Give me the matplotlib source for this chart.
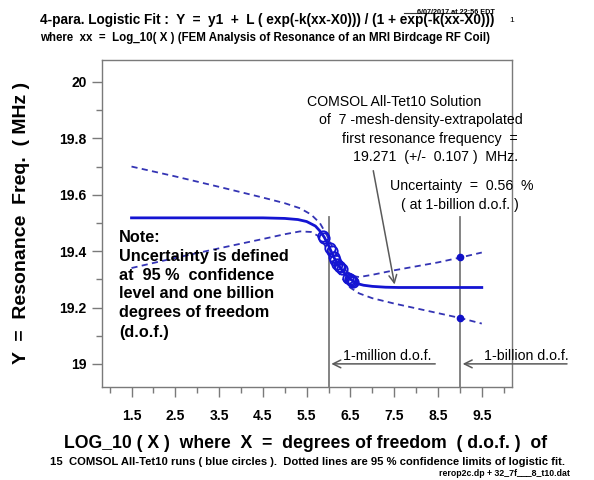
import matplotlib
matplotlib.use("Agg")
import matplotlib.pyplot as plt
from matplotlib.ticker import FixedLocator
from matplotlib.lines import Line2D

plt.rcParams['font.family'] = ['Liberation Sans', 'DejaVu Sans']

# logistic fit curve
fit_x = [1.5, 4.5, 5.0, 5.3, 5.5, 5.7, 5.8, 5.9, 6.0, 6.1, 6.2, 6.3, 6.4, 6.5, 6.6, 6.7, 6.8, 7.0, 7.3, 7.6, 9.5]
fit_y = [19.518, 19.518, 19.516, 19.512, 19.505, 19.489, 19.472, 19.45, 19.42, 19.385, 19.355, 19.335,
         19.315, 19.300, 19.290, 19.283, 19.279, 19.275, 19.272, 19.271, 19.271]

# 95 % confidence limits (dashed)
up_x = [1.5, 2.5, 3.5, 4.5, 5.0, 5.35, 5.6, 5.8, 5.95, 6.1, 6.25, 6.4, 6.55, 6.7, 7.0, 7.5, 8.0, 8.5, 9.0, 9.5]
up_y = [19.70, 19.665, 19.628, 19.59, 19.57, 19.552, 19.53, 19.50, 19.46, 19.41, 19.365, 19.33, 19.312,
        19.308, 19.316, 19.332, 19.346, 19.36, 19.377, 19.395]
lo_x = [1.5, 2.5, 3.5, 4.5, 5.0, 5.35, 5.6, 5.75, 5.9, 6.05, 6.2, 6.35, 6.5, 6.7, 7.0, 7.5, 8.0, 8.5, 9.0, 9.5]
lo_y = [19.34, 19.376, 19.41, 19.443, 19.46, 19.47, 19.468, 19.455, 19.425, 19.38, 19.335, 19.295, 19.27,
        19.25, 19.233, 19.214, 19.197, 19.18, 19.163, 19.143]

# 15 COMSOL runs (blue circles)
run_x = [5.87, 5.90, 6.04, 6.07, 6.12, 6.15, 6.20, 6.24, 6.27, 6.30, 6.45, 6.48, 6.51, 6.54, 6.57]
run_y = [19.455, 19.447, 19.41, 19.40, 19.38, 19.37, 19.355, 19.347, 19.343, 19.337, 19.305, 19.300,
         19.297, 19.294, 19.292]

# confidence limits at 1-billion d.o.f.
ci_x = [9.0, 9.0]
ci_y = [19.378, 19.164]

xmajor = [1.5, 2.5, 3.5, 4.5, 5.5, 6.5, 7.5, 8.5, 9.5]
xlabels = ["1.5", "2.5", "3.5", "4.5", "5.5", "6.5", "7.5", "8.5", "9.5"]
xminor = [1, 2, 3, 4, 5, 6, 7, 8, 9, 10]
ymajor = [19.0, 19.2, 19.4, 19.6, 19.8, 20.0]
ylabels = ["19", "19.2", "19.4", "19.6", "19.8", "20"]
yminor = [19.1, 19.3, 19.5, 19.7, 19.9]

W, H = 594, 480
fig = plt.figure(figsize=(W / 100, H / 100), dpi=100)
ax = fig.add_axes([102 / W, 1 - 387 / H, 410 / W, 327 / H])
ax.set_xlim(0.826, 10.19)
ax.set_ylim(18.918, 20.078)

grey = '#7a7a7a'
for s in ax.spines.values():
    s.set_color(grey)
    s.set_linewidth(1.0)

ax.xaxis.set_major_locator(FixedLocator(xmajor))
ax.set_xticklabels(xlabels, fontweight='bold', fontsize=10)
ax.xaxis.set_minor_locator(FixedLocator(xminor))
ax.yaxis.set_major_locator(FixedLocator(ymajor))
ax.set_yticklabels(ylabels, fontweight='bold', fontsize=10)
ax.yaxis.set_minor_locator(FixedLocator(yminor))
ax.tick_params(which='major', direction='out', length=7, width=1, color=grey)
ax.tick_params(which='minor', direction='out', length=4, width=1, color=grey)
ax.tick_params(axis='x', which='major', pad=9)
ax.tick_params(axis='y', which='major', pad=4)

# vertical markers at 1-million and 1-billion d.o.f.
ax.plot([6, 6], [19.52, 18.918], color=grey, lw=1.3)
ax.plot([9, 9], [19.52, 18.918], color=grey, lw=1.3)

ax.plot(up_x, up_y, color='#3434b4', lw=1.3, dashes=(3.4, 2.4))
ax.plot(lo_x, lo_y, color='#3434b4', lw=1.3, dashes=(3.4, 2.4))
ax.plot(fit_x, fit_y, color='#1414d2', lw=2.0)
ax.plot(run_x, run_y, 'o', mfc='none', mec='#1414d2', mew=1.3, ms=7.5)
ax.plot(ci_x, ci_y, 'o', color='#1010c8', ms=4.5)

arr = dict(arrowstyle='->', color='#5a5a5a', lw=1.1, mutation_scale=14)
ax.annotate('', xy=(7.52, 19.272), xytext=(7.01, 19.695), arrowprops=arr)
ax.annotate('', xy=(6.0, 19.0), xytext=(8.5, 19.0), arrowprops=arr, annotation_clip=False)
ax.annotate('', xy=(9.0, 19.0), xytext=(11.51, 19.0), arrowprops=arr, annotation_clip=False)


def ftext(px, py, s, **kw):
    fig.text(px / W, 1 - py / H, s, va='center', **kw)


ftext(40, 20, "4-para. Logistic Fit :  Y  =  y1  +  L ( exp(-k(xx-X0))) / (1 + exp(-k(xx-X0)))",
      fontsize=9.8, fontweight='bold')
ftext(40, 38, "where  xx  =  Log_10( X ) (FEM Analysis of Resonance of an MRI Birdcage RF Coil)",
      fontsize=8.3, fontweight='bold')
ftext(509, 21, "1", fontsize=6)
ftext(417, 13, "6/07/2017 at 22:56 EDT", fontsize=5.2, fontweight='bold')
fig.add_artist(Line2D([404 / W, 472 / W], [1 - 13 / H, 1 - 13 / H], color='#333333', lw=0.8))

ftext(22, 223, "Y  =  Resonance  Freq.  ( MHz )", fontsize=14, fontweight='bold', rotation=90, ha='center')
ftext(306, 443, "LOG_10 ( X )  where  X  =  degrees of freedom  ( d.o.f. )  of",
      fontsize=12.7, fontweight='bold', ha='center')
ftext(307, 462, "15  COMSOL All-Tet10 runs ( blue circles ).  Dotted lines are 95 % confidence limits of logistic fit.",
      fontsize=8.1, fontweight='bold', ha='center')
ftext(570, 474, "rerop2c.dp + 32_7f___8_t10.dat", fontsize=6.3, fontweight='bold', ha='right')

note = ["Note:", "Uncertainty is defined", "at  95 %  confidence", "level and one billion",
        "degrees of freedom", "(d.o.f.)"]
for i, line in enumerate(note):
    ftext(119, 237 + i * 19, line, fontsize=11.7, fontweight='bold')

fs = 10.2
ftext(307, 102, "COMSOL All-Tet10 Solution", fontsize=fs)
ftext(319, 120, "of  7 -mesh-density-extrapolated", fontsize=fs)
ftext(342, 139, "first resonance frequency  =", fontsize=fs)
ftext(353, 157, "19.271  (+/-  0.107 )  MHz.", fontsize=fs)
ftext(390, 186, "Uncertainty  =  0.56  %", fontsize=fs)
ftext(401, 205, "( at 1-billion d.o.f. )", fontsize=fs)
ftext(343, 356, "1-million d.o.f.", fontsize=fs)
ftext(484, 356, "1-billion d.o.f.", fontsize=fs)

fig.savefig("out.png", dpi=100)
